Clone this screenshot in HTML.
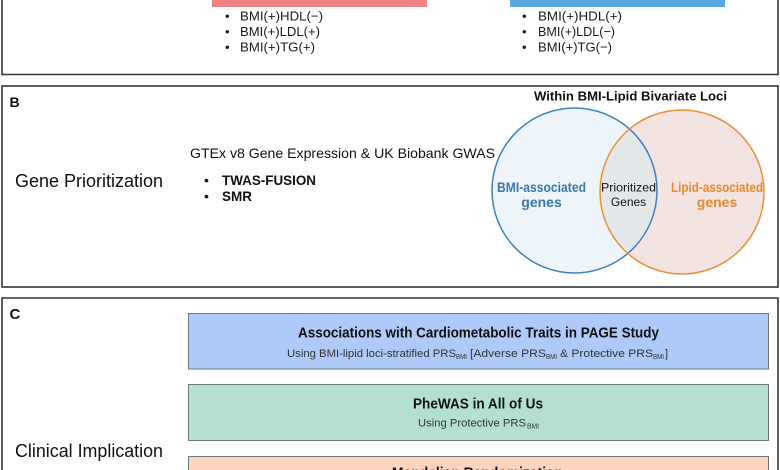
<!DOCTYPE html>
<html><head><meta charset="utf-8"><style>
html,body{margin:0;padding:0;background:#fff;overflow:hidden;width:780px;height:470px;}
svg{display:block;font-family:"Liberation Sans",sans-serif;}
</style></head><body>
<svg width="780" height="470" viewBox="0 0 780 470" xmlns="http://www.w3.org/2000/svg">
<defs>
<clipPath id="cb"><circle cx="574.5" cy="190.5" r="82.5"/></clipPath>
</defs>
<!-- Panel A -->
<path d="M2 0 V74.5 H778 V0" fill="none" stroke="#333" stroke-width="1.6"/>
<rect x="212" y="0" width="215" height="7" fill="#f08383"/>
<rect x="510" y="0" width="215" height="7" fill="#5aa9e3"/>
<g font-size="13" fill="#1a1a1a">
<text x="225" y="20.5">•</text><text x="240" y="20.5" textLength="83" lengthAdjust="spacingAndGlyphs">BMI(+)HDL(−)</text>
<text x="225" y="36">•</text><text x="240" y="36" textLength="80" lengthAdjust="spacingAndGlyphs">BMI(+)LDL(+)</text>
<text x="225" y="51.5">•</text><text x="240" y="51.5" textLength="75" lengthAdjust="spacingAndGlyphs">BMI(+)TG(+)</text>
<text x="522" y="20.5">•</text><text x="538" y="20.5" textLength="84" lengthAdjust="spacingAndGlyphs">BMI(+)HDL(+)</text>
<text x="522" y="36">•</text><text x="538" y="36" textLength="77" lengthAdjust="spacingAndGlyphs">BMI(+)LDL(−)</text>
<text x="522" y="51.5">•</text><text x="538" y="51.5" textLength="74" lengthAdjust="spacingAndGlyphs">BMI(+)TG(−)</text>
</g>
<!-- Panel B -->
<rect x="2" y="86" width="776" height="201" fill="#fff" stroke="#333" stroke-width="1.6"/>
<text x="9.5" y="107" font-size="14" font-weight="bold" fill="#111">B</text>
<text x="15" y="187" font-size="18" fill="#111" textLength="148" lengthAdjust="spacingAndGlyphs">Gene Prioritization</text>
<text x="190" y="158" font-size="14" fill="#111" textLength="305" lengthAdjust="spacingAndGlyphs">GTEx v8 Gene Expression &amp; UK Biobank GWAS</text>
<text x="204" y="185" font-size="14" fill="#111">•</text>
<text x="222" y="185" font-size="14" font-weight="bold" fill="#111" textLength="94" lengthAdjust="spacingAndGlyphs">TWAS-FUSION</text>
<text x="204" y="201" font-size="14" fill="#111">•</text>
<text x="222" y="201" font-size="14" font-weight="bold" fill="#111" textLength="30" lengthAdjust="spacingAndGlyphs">SMR</text>
<text x="534" y="100.5" font-size="13" font-weight="bold" fill="#111" textLength="193" lengthAdjust="spacingAndGlyphs">Within BMI-Lipid Bivariate Loci</text>
<circle cx="574.5" cy="190.5" r="82.5" fill="#edf5fa"/>
<circle cx="682" cy="192" r="82" fill="#f4e4e1"/>
<circle cx="682" cy="192" r="82" fill="#e4e7ea" clip-path="url(#cb)"/>
<circle cx="574.5" cy="190.5" r="82.5" fill="none" stroke="#3f80bf" stroke-width="1.5"/>
<circle cx="682" cy="192" r="82" fill="none" stroke="#e8913a" stroke-width="1.5"/>
<g font-size="14" font-weight="bold" fill="#3b78b0">
<text x="497" y="192" textLength="89" lengthAdjust="spacingAndGlyphs">BMI-associated</text>
<text x="541.5" y="207" text-anchor="middle">genes</text>
</g>
<g font-size="14" font-weight="bold" fill="#e88a30">
<text x="671" y="192" textLength="92" lengthAdjust="spacingAndGlyphs">Lipid-associated</text>
<text x="717" y="207" text-anchor="middle">genes</text>
</g>
<g font-size="12" fill="#111">
<text x="601" y="191.5" textLength="55" lengthAdjust="spacingAndGlyphs">Prioritized</text>
<text x="628.5" y="206" text-anchor="middle">Genes</text>
</g>
<!-- Panel C -->
<path d="M2 470 V298 H778 V470" fill="#fff" stroke="#333" stroke-width="1.6"/>
<text x="9.5" y="319" font-size="15" font-weight="bold" fill="#111">C</text>
<text x="15" y="457" font-size="18" fill="#111" textLength="148" lengthAdjust="spacingAndGlyphs">Clinical Implication</text>
<rect x="188.5" y="313.5" width="580" height="55.5" fill="#afc9f9" stroke="#6e7680" stroke-width="1"/>
<rect x="188.5" y="384.5" width="580" height="56" fill="#b4e0d2" stroke="#6e7680" stroke-width="1"/>
<path d="M188.5 470 V456.5 H768.5 V470 Z" fill="#fcd4bf"/>
<path d="M188.5 470 V456.5 H768.5 V470" fill="none" stroke="#6e7680" stroke-width="1"/>
<text x="298" y="337.5" font-size="15" font-weight="bold" fill="#111" textLength="361" lengthAdjust="spacingAndGlyphs">Associations with Cardiometabolic Traits in PAGE Study</text>
<g fill="#333">
<text x="287" y="357" font-size="11" textLength="169" lengthAdjust="spacingAndGlyphs">Using BMI-lipid loci-stratified PRS</text>
<text x="456" y="359" font-size="7" textLength="11" lengthAdjust="spacingAndGlyphs">BMI</text>
<text x="470" y="357" font-size="11" textLength="76" lengthAdjust="spacingAndGlyphs">[Adverse PRS</text>
<text x="546" y="359" font-size="7" textLength="11" lengthAdjust="spacingAndGlyphs">BMI</text>
<text x="560" y="357" font-size="11" textLength="93" lengthAdjust="spacingAndGlyphs">&amp; Protective PRS</text>
<text x="653" y="359" font-size="7" textLength="11" lengthAdjust="spacingAndGlyphs">BMI</text>
<text x="665" y="357" font-size="11">]</text>
</g>
<text x="413" y="408.5" font-size="15" font-weight="bold" fill="#111" textLength="130" lengthAdjust="spacingAndGlyphs">PheWAS in All of Us</text>
<g fill="#333">
<text x="418" y="426.5" font-size="11" textLength="108" lengthAdjust="spacingAndGlyphs">Using Protective PRS</text>
<text x="527" y="428.5" font-size="7" textLength="12" lengthAdjust="spacingAndGlyphs">BMI</text>
</g>
<text x="392" y="477.5" font-size="15" font-weight="bold" fill="#111" textLength="171" lengthAdjust="spacingAndGlyphs">Mendelian Randomization</text>
</svg>
</body></html>
